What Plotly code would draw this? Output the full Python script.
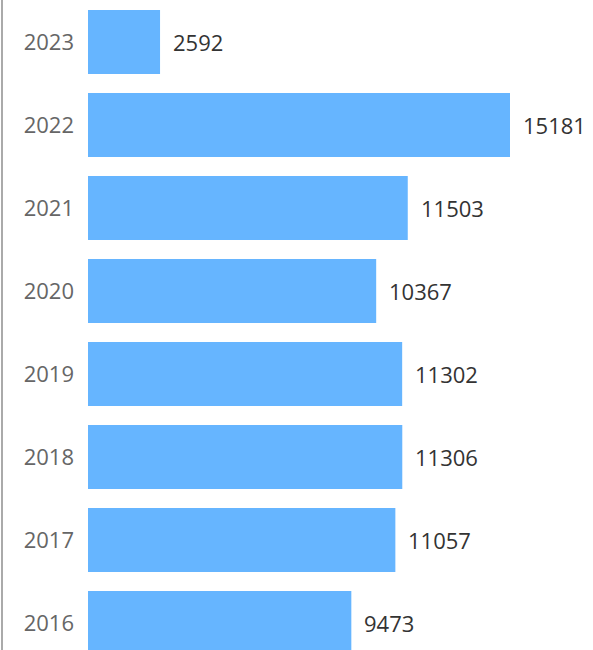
import plotly.graph_objects as go

years = ["2016", "2017", "2018", "2019", "2020", "2021", "2022", "2023"]
values = [9473, 11057, 11306, 11302, 10367, 11503, 15181, 2592]

W, H = 593, 650
left = 88
px_per_unit = 422 / 15181
xmax = (W - left) / px_per_unit

fig = go.Figure()
fig.add_trace(go.Bar(
    x=values, y=years, orientation="h",
    marker=dict(color="#66b5ff", line=dict(width=0)),
    width=0.77,
    hoverinfo="skip",
))

# category axis: annotation positions are given as category indices
for i, v in enumerate(values):
    fig.add_annotation(
        x=v, y=i, xref="x", yref="y", text=str(v), showarrow=False,
        xanchor="left", yanchor="middle", xshift=11,
        font=dict(family="Open Sans", size=22, color="#333333"),
    )

fig.add_shape(type="line", xref="paper", yref="paper",
              x0=-(left - 2) / (W - left), x1=-(left - 2) / (W - left),
              y0=0, y1=1, line=dict(color="#aaaaaa", width=2))

fig.update_layout(
    width=W, height=H,
    margin=dict(l=left, r=0, t=0, b=0, pad=0),
    paper_bgcolor="white", plot_bgcolor="white",
    showlegend=False,
    xaxis=dict(range=[0, xmax], showticklabels=False, ticks="",
               showgrid=False, zeroline=False, showline=False),
    yaxis=dict(
        type="category", categoryorder="array", categoryarray=years,
        range=[-0.325, 7.506],
        showgrid=False, zeroline=False, showline=False,
        ticks="", ticklabelstandoff=13,
        tickfont=dict(family="Open Sans", size=22, color="#666666"),
    ),
)

fig.write_html("out.html", config={"displayModeBar": False},
               post_script="document.body.style.margin='0px';")
